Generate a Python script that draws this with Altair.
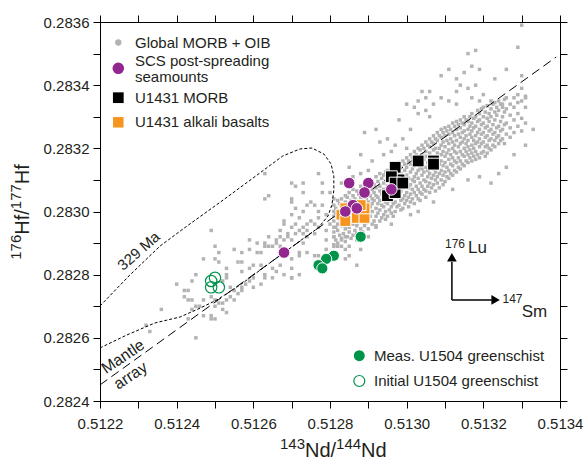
import altair as alt
import pandas as pd

FONT = "Liberation Sans"
INK = "#231f20"
GRAY = "#b3b3b3"
PURPLE = "#92278f"
ORANGE = "#f7941d"
GREEN = "#00934a"

nd_ticks = [0.5122, 0.5123, 0.5124, 0.5125, 0.5126, 0.5127, 0.5128,
            0.5129, 0.5130, 0.5131, 0.5132, 0.5133, 0.5134]
hf_ticks = [0.2824, 0.2825, 0.2826, 0.2827, 0.2828, 0.2829, 0.2830,
            0.2831, 0.2832, 0.2833, 0.2834, 0.2835, 0.2836]

# Global MORB + OIB: dense band, read column by column (143Nd/144Nd, [176Hf/177Hf ...])
global_band = [
    (0.512810, [0.282895, 0.28292, 0.282935, 0.28297, 0.282985, 0.28302]),
    (0.512815, [0.28291, 0.28295, 0.282995, 0.28301]),
    (0.512820, [0.28290, 0.28294, 0.28296, 0.28300, 0.283035]),
    (0.512825, [0.282925, 0.282975, 0.28299, 0.283025]),
    (0.512830, [0.28289, 0.282915, 0.282955, 0.28298, 0.28301, 0.28304]),
    (0.512835, [0.28293, 0.282965, 0.283005]),
    (0.512840, [0.282905, 0.282945, 0.28297, 0.282995, 0.28303, 0.28305]),
    (0.512845, [0.28292, 0.28296, 0.283015, 0.283045]),
    (0.512850, [0.282935, 0.28295, 0.282985, 0.28300, 0.283025, 0.28306]),
    (0.512855, [0.282915, 0.28297, 0.283035]),
    (0.512860, [0.282925, 0.28296, 0.28299, 0.283015, 0.28305, 0.28307]),
    (0.512865, [0.28294, 0.28298, 0.283005, 0.28304]),
    (0.512870, [0.28293, 0.282955, 0.282975, 0.28302, 0.28303, 0.283065]),
    (0.512875, [0.282965, 0.282995, 0.283055]),
    (0.512880, [0.282945, 0.28297, 0.28301, 0.283025, 0.283045, 0.28308]),
    (0.512885, [0.282935, 0.28299, 0.283035, 0.283065]),
    (0.512890, [0.282955, 0.28298, 0.28300, 0.28302, 0.28305, 0.283075]),
    (0.512895, [0.282965, 0.28301, 0.28304, 0.28309]),
    (0.512900, [0.282945, 0.282975, 0.282995, 0.28303, 0.28306, 0.28308]),
    (0.512905, [0.282985, 0.283015, 0.28305, 0.28310]),
    (0.512910, [0.28296, 0.28300, 0.283025, 0.28304, 0.28307, 0.283095]),
    (0.512915, [0.28297, 0.283035, 0.28306, 0.283085]),
    (0.512920, [0.282955, 0.282985, 0.28301, 0.28305, 0.283075, 0.28311]),
    (0.512925, [0.282995, 0.283025, 0.283045, 0.283095]),
    (0.512930, [0.28297, 0.283005, 0.283035, 0.283065, 0.28308, 0.28312]),
    (0.512935, [0.28298, 0.28302, 0.283055, 0.283105]),
    (0.512940, [0.28299, 0.283015, 0.28304, 0.28307, 0.28309, 0.283115]),
    (0.512945, [0.282975, 0.28300, 0.28303, 0.28306, 0.283125]),
    (0.512950, [0.282985, 0.283025, 0.28305, 0.28308, 0.28310, 0.28313]),
    (0.512955, [0.283005, 0.28304, 0.28307, 0.28311]),
    (0.512960, [0.282995, 0.283015, 0.283035, 0.283065, 0.283095, 0.28312]),
    (0.512965, [0.282985, 0.283025, 0.283055, 0.283085, 0.283135]),
    (0.512970, [0.28300, 0.28303, 0.28307, 0.283105, 0.283125, 0.283145]),
    (0.512975, [0.283015, 0.283045, 0.28309, 0.283115]),
    (0.512980, [0.28302, 0.283055, 0.28308, 0.28310, 0.28313, 0.283155]),
    (0.512985, [0.283005, 0.283035, 0.283065, 0.28312, 0.28314]),
    (0.512990, [0.28301, 0.28304, 0.283075, 0.283095, 0.28311, 0.28316]),
    (0.512995, [0.283025, 0.28305, 0.283085, 0.28313, 0.28315]),
    (0.513000, [0.283035, 0.28306, 0.28309, 0.283115, 0.28314, 0.28317]),
    (0.513005, [0.283015, 0.283045, 0.283075, 0.283105, 0.28316]),
    (0.513010, [0.28303, 0.283055, 0.283085, 0.283125, 0.28315, 0.28318]),
    (0.513015, [0.28304, 0.28307, 0.28310, 0.283135, 0.28317]),
    (0.513020, [0.283025, 0.28306, 0.283095, 0.28311, 0.283145, 0.283165, 0.28319]),
    (0.513025, [0.28305, 0.28308, 0.28312, 0.283155, 0.28318]),
    (0.513030, [0.28304, 0.28307, 0.283105, 0.28313, 0.28317, 0.28320]),
    (0.513035, [0.283035, 0.28306, 0.28309, 0.28314, 0.28316, 0.283195]),
    (0.513040, [0.283055, 0.28308, 0.283115, 0.283135, 0.28315, 0.28318, 0.28321]),
    (0.513045, [0.28307, 0.28310, 0.283125, 0.283165, 0.28320]),
    (0.513050, [0.283045, 0.283065, 0.283095, 0.28314, 0.283175, 0.28319, 0.28322]),
    (0.513055, [0.28308, 0.28311, 0.28313, 0.283155, 0.28321]),
    (0.513060, [0.28306, 0.28309, 0.28312, 0.28316, 0.283185, 0.283205, 0.28323]),
    (0.513065, [0.283075, 0.283105, 0.283145, 0.28317, 0.28322]),
    (0.513070, [0.283085, 0.283115, 0.283135, 0.283155, 0.283195, 0.283215, 0.28324]),
    (0.513075, [0.283065, 0.28310, 0.283125, 0.28317, 0.28320, 0.28323]),
    (0.513080, [0.28309, 0.28311, 0.28314, 0.283165, 0.283185, 0.283225, 0.28325]),
    (0.513085, [0.283075, 0.28312, 0.28315, 0.28320, 0.28324]),
    (0.513090, [0.28310, 0.28313, 0.28316, 0.28318, 0.28321, 0.283235, 0.28326]),
    (0.513095, [0.283085, 0.283115, 0.283145, 0.28319, 0.28322, 0.28325]),
    (0.513100, [0.283095, 0.283125, 0.283155, 0.283175, 0.283205, 0.28324, 0.283265]),
    (0.513105, [0.28311, 0.28314, 0.283185, 0.283225, 0.283255]),
    (0.513110, [0.283105, 0.28313, 0.283165, 0.283195, 0.283215, 0.283245, 0.28327]),
    (0.513115, [0.28312, 0.28315, 0.28318, 0.28323, 0.28326]),
    (0.513120, [0.283115, 0.283145, 0.28317, 0.28320, 0.28322, 0.28325, 0.28328]),
    (0.513125, [0.28313, 0.28316, 0.28319, 0.28321, 0.28324, 0.28327]),
    (0.513130, [0.283125, 0.283155, 0.283185, 0.283225, 0.28326, 0.283285]),
    (0.513135, [0.28314, 0.28317, 0.283205, 0.283245, 0.283275]),
    (0.513140, [0.283135, 0.28316, 0.28319, 0.283215, 0.283235, 0.283265, 0.28329]),
    (0.513145, [0.28315, 0.28318, 0.28322, 0.28325, 0.28328]),
    (0.513150, [0.283145, 0.283175, 0.28320, 0.28323, 0.283255, 0.283275, 0.28330]),
    (0.513155, [0.28316, 0.28319, 0.283215, 0.28324, 0.28329]),
    (0.513160, [0.283155, 0.28318, 0.283205, 0.283225, 0.28326, 0.283285]),
    (0.513165, [0.28317, 0.283195, 0.283245, 0.28327, 0.28330]),
    (0.513170, [0.28316, 0.283185, 0.28321, 0.283235, 0.283255, 0.28328, 0.28331]),
    (0.513175, [0.283175, 0.28320, 0.283225, 0.283265, 0.283295]),
    (0.513180, [0.283165, 0.28319, 0.283215, 0.28324, 0.28327, 0.28330]),
    (0.513185, [0.28318, 0.28322, 0.28325, 0.283285, 0.28332]),
    (0.513190, [0.28317, 0.283205, 0.28323, 0.28326, 0.28329, 0.28331]),
    (0.513195, [0.283185, 0.283215, 0.283245, 0.283275, 0.283325]),
    (0.513200, [0.28319, 0.28322, 0.28325, 0.28328, 0.28330, 0.28333]),
    (0.513205, [0.283175, 0.283205, 0.283235, 0.283265, 0.283315]),
    (0.513210, [0.283185, 0.28321, 0.28324, 0.28327, 0.283295, 0.283335]),
    (0.513215, [0.28320, 0.283225, 0.283255, 0.283285, 0.28331]),
    (0.513220, [0.283195, 0.28323, 0.28326, 0.28330, 0.283325]),
    (0.513225, [0.28321, 0.283245, 0.283275, 0.28334]),
    (0.513230, [0.283205, 0.283225, 0.28325, 0.28329, 0.283315, 0.283345]),
    (0.513235, [0.283235, 0.283265, 0.283305, 0.28333]),
    (0.513240, [0.283215, 0.28324, 0.28327, 0.28332, 0.28335]),
    (0.513245, [0.283225, 0.283255, 0.283285, 0.28334]),
    (0.513250, [0.28323, 0.28326, 0.28330, 0.28333]),
    (0.513255, [0.283215, 0.283275, 0.283315, 0.283355]),
    (0.513260, [0.283245, 0.28328, 0.283325, 0.28336]),
    (0.513270, [0.283235, 0.283265, 0.283305, 0.28334]),
    (0.513280, [0.28325, 0.28329, 0.28333, 0.28336]),
    (0.513290, [0.28327, 0.28331, 0.283345]),
    (0.513300, [0.283255, 0.283295, 0.28335]),
    (0.513310, [0.28328, 0.28333, 0.283365]),
]

# Global MORB + OIB: scattered points around the band and to the low-Nd side
global_scatter = [
    (0.51330, 0.28359), (0.51329, 0.28352), (0.51316, 0.28350), (0.51318, 0.28351),
    (0.51311, 0.28345), (0.51315, 0.28344), (0.51317, 0.28346), (0.51319, 0.28345),
    (0.51313, 0.28342), (0.51323, 0.28342), (0.51326, 0.28345), (0.51330, 0.28343),
    (0.51330, 0.28339), (0.51331, 0.28336), (0.51329, 0.28337), (0.51314, 0.28340),
    (0.51316, 0.28339), (0.51318, 0.28340), (0.51313, 0.28338), (0.51320, 0.28337),
    (0.51309, 0.28336), (0.51311, 0.28335), (0.51317, 0.28336), (0.51313, 0.28334),
    (0.51319, 0.28335), (0.51322, 0.28335), (0.51325, 0.28334), (0.51309, 0.28343),
    (0.51306, 0.28338), (0.51304, 0.28338), (0.51300, 0.28334), (0.51302, 0.28333),
    (0.51303, 0.28335), (0.51305, 0.28336), (0.51307, 0.28334), (0.51303, 0.28331),
    (0.51305, 0.28332), (0.51306, 0.28330), (0.51298, 0.28329),
    (0.51289, 0.28325), (0.51292, 0.28326), (0.51295, 0.28323), (0.51296, 0.28319),
    (0.51297, 0.28321), (0.51299, 0.28323), (0.51300, 0.28320), (0.51294, 0.28318),
    (0.51291, 0.28316), (0.51290, 0.28313), (0.51288, 0.28312), (0.51286, 0.28311),
    (0.51285, 0.28314), (0.51293, 0.28322), (0.51288, 0.28318), (0.51283, 0.28309),
    (0.51280, 0.28306), (0.51301, 0.28326),
    (0.51324, 0.28312), (0.51326, 0.28314), (0.51319, 0.28311), (0.51316, 0.28310),
    (0.51312, 0.28307), (0.51307, 0.28303), (0.51303, 0.28300), (0.51301, 0.28299),
    (0.51296, 0.28296), (0.51292, 0.28295), (0.51290, 0.28292), (0.51287, 0.28291),
    (0.51288, 0.28288), (0.51284, 0.28288), (0.51287, 0.28283), (0.51285, 0.28286),
    (0.51284, 0.28285), (0.51328, 0.28318), (0.51331, 0.28321), (0.51333, 0.28326),
    (0.51322, 0.28309),
    (0.51263, 0.28312), (0.51277, 0.28312), (0.51263, 0.28304), (0.51270, 0.28309),
    (0.51271, 0.28308), (0.51273, 0.28309), (0.51270, 0.28304), (0.51273, 0.28306),
    (0.51278, 0.28309), (0.51278, 0.28306), (0.51270, 0.28299), (0.51268, 0.28297),
    (0.51270, 0.28303), (0.51275, 0.28303), (0.51277, 0.28300), (0.51272, 0.28298),
    (0.51273, 0.28300), (0.51275, 0.28297), (0.51277, 0.28298), (0.51279, 0.28299),
    (0.51271, 0.28301), (0.51274, 0.28302), (0.51276, 0.28302), (0.51278, 0.28302),
    (0.51281, 0.28304), (0.51264, 0.28305),
    (0.51268, 0.28296), (0.51270, 0.28295), (0.51271, 0.28296), (0.51273, 0.28295),
    (0.51274, 0.28296), (0.51276, 0.28296), (0.51277, 0.28295), (0.51267, 0.28294),
    (0.51269, 0.28293), (0.51271, 0.28293), (0.51273, 0.28293), (0.51274, 0.28292),
    (0.51276, 0.28293), (0.51264, 0.28292), (0.51266, 0.28291), (0.51268, 0.28291),
    (0.51270, 0.28291), (0.51261, 0.28290), (0.51259, 0.28291), (0.51264, 0.28289),
    (0.51280, 0.28296), (0.51281, 0.28295), (0.51279, 0.28294), (0.51281, 0.28292),
    (0.51279, 0.28291), (0.51281, 0.28300), (0.51283, 0.28291), (0.51282, 0.28289),
    (0.51285, 0.28289), (0.51284, 0.28292),
    (0.51249, 0.28294), (0.51255, 0.28288), (0.51251, 0.28287), (0.51257, 0.28287),
    (0.51259, 0.28288), (0.51261, 0.28287), (0.51263, 0.28289), (0.51265, 0.28289),
    (0.51266, 0.28290), (0.51267, 0.28292), (0.51269, 0.28292), (0.51272, 0.28294),
    (0.51274, 0.28294), (0.51250, 0.28289), (0.51267, 0.28289), (0.51273, 0.28290),
    (0.51272, 0.28287), (0.51270, 0.28285),
    (0.51258, 0.28277), (0.51259, 0.28278), (0.51260, 0.28279), (0.51263, 0.28280),
    (0.51257, 0.28276), (0.51256, 0.28274), (0.51255, 0.28275), (0.51254, 0.28276),
    (0.51254, 0.28273), (0.51253, 0.28272), (0.51252, 0.28271), (0.51250, 0.28270),
    (0.51250, 0.28272), (0.51249, 0.28273), (0.51247, 0.28272), (0.51245, 0.28270),
    (0.51244, 0.28269), (0.51243, 0.28272), (0.51242, 0.28275), (0.51245, 0.28280),
    (0.51244, 0.28278), (0.51243, 0.28266), (0.51249, 0.28267), (0.51252, 0.28269),
    (0.51253, 0.28280), (0.51253, 0.28282), (0.51252, 0.28278), (0.51257, 0.28281),
    (0.51259, 0.28282), (0.51260, 0.28283), (0.51262, 0.28283), (0.51265, 0.28282),
    (0.51267, 0.28283), (0.51266, 0.28281), (0.51268, 0.28280), (0.51270, 0.28282),
    (0.51270, 0.28279), (0.51272, 0.28280), (0.51272, 0.28286), (0.51274, 0.28287),
    (0.51276, 0.28286), (0.51277, 0.28286), (0.51279, 0.28288), (0.51281, 0.28289),
    (0.51251, 0.28284), (0.51250, 0.28285), (0.51247, 0.28285), (0.51256, 0.28284),
    (0.51240, 0.28277), (0.51236, 0.28269), (0.51232, 0.28264), (0.51233, 0.28262),
    (0.51245, 0.28260), (0.51243, 0.28275), (0.51242, 0.28273), (0.51244, 0.28272),
    (0.51253, 0.28279), (0.51257, 0.28284), (0.51262, 0.28287), (0.51263, 0.28290),
    (0.51270, 0.28279), (0.51247, 0.28267), (0.51250, 0.28266), (0.51251, 0.28271),
    (0.51255, 0.28272), (0.51257, 0.28275), (0.51260, 0.28276), (0.51262, 0.28277),
    (0.51263, 0.28279), (0.51265, 0.28279), (0.51253, 0.28268), (0.51249, 0.28266),
    (0.51246, 0.28270),
]

scs_nd = [0.51285, 0.51290, 0.51289, 0.51296, 0.51286, 0.51287, 0.51284, 0.51268]
scs_hf = [0.28309, 0.28309, 0.28306, 0.28307, 0.28302, 0.28301, 0.28300, 0.28287]

morb_nd = [0.51303, 0.51307, 0.51307, 0.51297, 0.51298, 0.51296, 0.51297, 0.51295, 0.51297, 0.51299]
morb_hf = [0.28316, 0.28316, 0.28315, 0.28314, 0.28310, 0.28311, 0.28309, 0.28305, 0.28306, 0.28309]

alk_nd = [0.51283, 0.51284, 0.51287, 0.51289, 0.51289, 0.51288, 0.51284]
alk_hf = [0.28299, 0.28297, 0.28298, 0.28298, 0.28301, 0.28302, 0.28301]

meas_nd = [0.51288, 0.51281, 0.51279, 0.51277, 0.51278]
meas_hf = [0.28292, 0.28286, 0.28285, 0.28283, 0.28282]

init_nd = [0.51250, 0.51249, 0.51251, 0.51249]
init_hf = [0.28279, 0.28276, 0.28276, 0.28278]

mantle_nd = [0.51220, 0.51339]
mantle_hf = [0.282451, 0.283489]

ellipse_nd = [0.512200, 0.512270, 0.512343, 0.512409, 0.512461, 0.512505, 0.512565,
              0.512643, 0.512722, 0.512769, 0.512795, 0.512805, 0.512810, 0.512810,
              0.512803, 0.512784, 0.512753, 0.512722, 0.512677, 0.512617, 0.512521,
              0.512427, 0.512357, 0.512278, 0.512200]
ellipse_hf = [0.282568, 0.282609, 0.282647, 0.282666, 0.282694, 0.282720, 0.282767,
              0.282837, 0.282907, 0.282948, 0.282986, 0.283021, 0.283068, 0.283112,
              0.283150, 0.283182, 0.283201, 0.283198, 0.283176, 0.283122, 0.283036,
              0.282954, 0.282891, 0.282799, 0.282701]

# ---------------------------------------------------------------- tables
rows = [(nd, hf) for nd, hfs in global_band for hf in hfs] + global_scatter
gdf = pd.DataFrame(rows, columns=["nd", "hf"])
scs = pd.DataFrame({"nd": scs_nd, "hf": scs_hf})
morb = pd.DataFrame({"nd": morb_nd, "hf": morb_hf})
alk = pd.DataFrame({"nd": alk_nd, "hf": alk_hf})
meas = pd.DataFrame({"nd": meas_nd, "hf": meas_hf})
init = pd.DataFrame({"nd": init_nd, "hf": init_hf})
mantle = pd.DataFrame({"nd": mantle_nd, "hf": mantle_hf})
ell = pd.DataFrame({"nd": ellipse_nd, "hf": ellipse_hf, "i": list(range(len(ellipse_nd)))})

xs = alt.Scale(domain=[0.5122, 0.5134], nice=False, zero=False)
ys = alt.Scale(domain=[0.2824, 0.2836], nice=False, zero=False)

lab = "round(datum.value * 10000) % 2 == 0 ? format(datum.value, '.4f') : ''"


def axis(orient, values, labels):
    kw = dict(orient=orient, values=values, grid=False, title=None,
              domainColor="black", domainWidth=1, tickColor="black",
              tickWidth=1, tickSize=7, labels=labels)
    if labels:
        kw.update(labelExpr=lab, labelFont=FONT, labelFontSize=15,
                  labelColor=INK, labelFlush=False, labelOverlap=False,
                  labelPadding=4 if orient == "left" else 8)
    return alt.Axis(**kw)


def X(axis_=None):
    return alt.X("nd:Q", scale=xs, axis=axis_)


def Y(axis_=None):
    return alt.Y("hf:Q", scale=ys, axis=axis_)


gray = alt.Chart(gdf).mark_square(size=12, color=GRAY, opacity=1).encode(
    x=X(axis("bottom", nd_ticks, True)), y=Y(axis("left", hf_ticks, True)))

mantle_line = alt.Chart(mantle).mark_line(color="black", strokeDash=[9, 5], strokeWidth=1).encode(
    x=X(axis("top", nd_ticks, False)), y=Y(axis("right", hf_ticks, False)))

ell_line = alt.Chart(ell).mark_line(color="black", strokeDash=[3, 2], strokeWidth=1).encode(
    x=X(), y=Y(), order="i:Q")

morb_pts = alt.Chart(morb).mark_square(size=140, color="black", opacity=1, stroke="white", strokeWidth=1).encode(x=X(), y=Y())
alk_pts = alt.Chart(alk).mark_square(size=120, color=ORANGE, opacity=1, stroke="white", strokeWidth=1).encode(x=X(), y=Y())
scs_pts = alt.Chart(scs).mark_circle(size=135, color=PURPLE, opacity=1, stroke="white", strokeWidth=1).encode(x=X(), y=Y())
meas_pts = alt.Chart(meas).mark_circle(size=125, color=GREEN, opacity=1, stroke="white", strokeWidth=1).encode(x=X(), y=Y())
init_pts = alt.Chart(init).mark_point(size=130, shape="circle", filled=False, color=GREEN, strokeWidth=1.2, opacity=1).encode(x=X(), y=Y())

# ---------------------------------------------------------------- annotations (data coords)
ann_329 = alt.Chart(pd.DataFrame({"nd": [0.512301], "hf": [0.282875], "t": ["329 Ma"]})).mark_text(
    angle=319, font=FONT, fontSize=15, color=INK, align="center", baseline="middle").encode(x=X(), y=Y(), text="t:N")
ann_mantle = alt.Chart(pd.DataFrame({"nd": [0.51226, 0.51228], "hf": [0.28254, 0.28248],
                                     "t": ["Mantle", "array"]})).mark_text(
    angle=326, font=FONT, fontSize=16, color=INK, align="center", baseline="middle").encode(x=X(), y=Y(), text="t:N")

arrows = pd.DataFrame({"nd": [0.513118, 0.513118], "hf": [0.28272, 0.28272],
                       "nd2": [0.513118, 0.513222], "hf2": [0.28284, 0.28272]})
arrow_lines = alt.Chart(arrows).mark_rule(color="black", strokeWidth=1.5).encode(
    x=X(), y=Y(), x2="nd2:Q", y2="hf2:Q")
head_up = alt.Chart(pd.DataFrame({"nd": [0.513118], "hf": [0.282855]})).mark_point(
    shape="triangle-up", size=95, filled=True, color="black", opacity=1).encode(x=X(), y=Y())
head_right = alt.Chart(pd.DataFrame({"nd": [0.513232], "hf": [0.28272]})).mark_point(
    shape="triangle-right", size=95, filled=True, color="black", opacity=1).encode(x=X(), y=Y())

iso_big = alt.Chart(pd.DataFrame({"nd": [0.51316, 0.51330], "hf": [0.282869, 0.282666],
                                  "t": ["Lu", "Sm"]})).mark_text(
    font=FONT, fontSize=17, color=INK, align="left", baseline="alphabetic").encode(x=X(), y=Y(), text="t:N")
iso_sup = alt.Chart(pd.DataFrame({"nd": [0.51310, 0.51325], "hf": [0.282884, 0.282709],
                                  "t": ["176", "147"]})).mark_text(
    font=FONT, fontSize=12, color=INK, align="left", baseline="alphabetic").encode(x=X(), y=Y(), text="t:N")

# ---------------------------------------------------------------- axis titles (pixel positions)
PX = alt.X("px:Q", scale=None, axis=None)
PY = alt.Y("py:Q", scale=None, axis=None)

xt = pd.DataFrame({"px": [180, 205, 236.1, 261.1], "py": [427, 434.7, 427, 434.7],
                   "t": ["143", "Nd/", "144", "Nd"], "fs": [15, 20, 15, 20]})
x_title = alt.Chart(xt).mark_text(font=FONT, color=INK, align="left", baseline="alphabetic").encode(
    x=PX, y=PY, text="t:N", size=alt.Size("fs:Q", scale=None))

yt = pd.DataFrame({"px": [-79, -71.5, -79, -71.5], "py": [237.8, 212.8, 187.2, 162.2],
                   "t": ["176", "Hf/", "177", "Hf"], "fs": [15, 20, 15, 20]})
y_title = alt.Chart(yt).mark_text(font=FONT, color=INK, align="left", baseline="alphabetic", angle=270).encode(
    x=PX, y=PY, text="t:N", size=alt.Size("fs:Q", scale=None))

# ---------------------------------------------------------------- legends (pixel positions)
leg_text = pd.DataFrame({
    "px": [35, 35, 35, 35, 35, 274, 274],
    "py": [20.7, 39.0, 54.6, 75.7, 100.3, 333.7, 359.0],
    "t": ["Global MORB + OIB", "SCS post-spreading", "seamounts", "U1431 MORB",
          "U1431 alkali basalts", "Meas. U1504 greenschist", "Initial U1504 greenschist"],
})
legend_text = alt.Chart(leg_text).mark_text(font=FONT, fontSize=15, color=INK, align="left", baseline="middle").encode(
    x=PX, y=PY, text="t:N")

lg_gray = alt.Chart(pd.DataFrame({"px": [18.3], "py": [20.5]})).mark_circle(size=40, color=GRAY, opacity=1).encode(x=PX, y=PY)
lg_scs = alt.Chart(pd.DataFrame({"px": [18.3], "py": [46.3]})).mark_circle(size=135, color=PURPLE, opacity=1).encode(x=PX, y=PY)
lg_morb = alt.Chart(pd.DataFrame({"px": [18.3], "py": [75.7]})).mark_square(size=115, color="black", opacity=1).encode(x=PX, y=PY)
lg_alk = alt.Chart(pd.DataFrame({"px": [18.3], "py": [100.3]})).mark_square(size=110, color=ORANGE, opacity=1).encode(x=PX, y=PY)
lg_meas = alt.Chart(pd.DataFrame({"px": [259.3], "py": [333.7]})).mark_circle(size=120, color=GREEN, opacity=1).encode(x=PX, y=PY)
lg_init = alt.Chart(pd.DataFrame({"px": [259.3], "py": [359.0]})).mark_point(
    size=120, shape="circle", filled=False, color=GREEN, strokeWidth=1.2, opacity=1).encode(x=PX, y=PY)

chart = alt.layer(
    gray, mantle_line, ell_line, morb_pts, alk_pts, scs_pts, meas_pts, init_pts,
    ann_329, ann_mantle, arrow_lines, head_up, head_right, iso_big, iso_sup,
    x_title, y_title, legend_text, lg_gray, lg_scs, lg_morb, lg_alk, lg_meas, lg_init,
).resolve_axis(x="independent", y="independent").properties(
    width=460, height=379,
    autosize=alt.AutoSizeParams(type="none"),
    padding={"left": 100, "top": 22, "right": 26, "bottom": 59},
    background="white",
).configure_view(stroke=None)

chart.save("out.html", embed_options={"renderer": "svg", "actions": False})
